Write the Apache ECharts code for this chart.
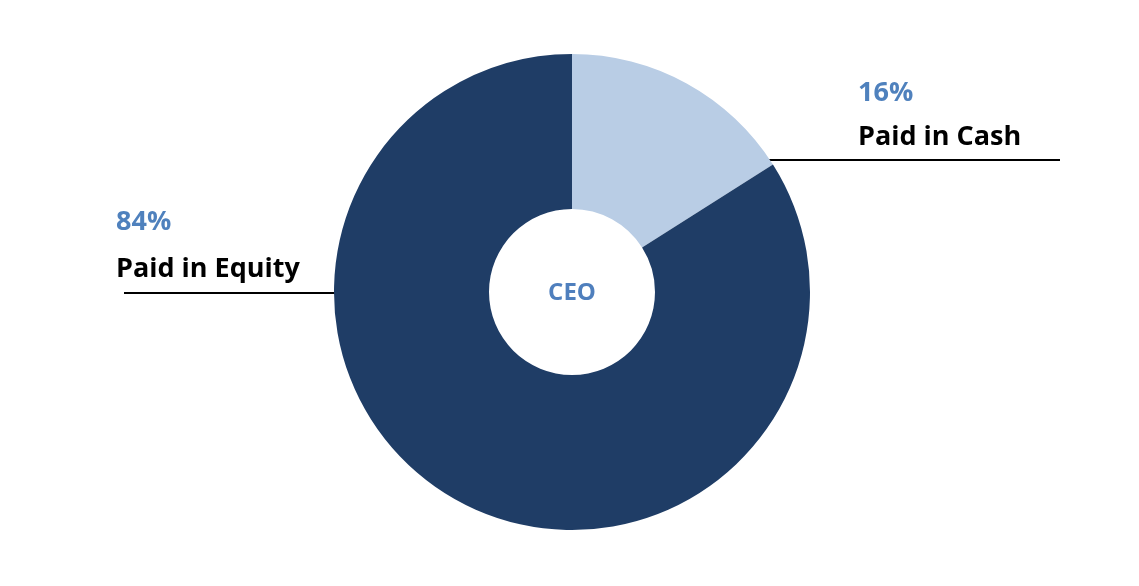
<!DOCTYPE html>
<html>
<head>
<meta charset="utf-8">
<script src="https://cdn.jsdelivr.net/npm/echarts@6/dist/echarts.min.js"></script>
<style>html,body{margin:0;padding:0;background:#fff}#chart{width:1139px;height:586px}</style>
</head>
<body>
<div id="chart"></div>
<script>
const names = ["Paid in Cash", "Paid in Equity"];
const values = [16, 84];
const colors = ["#b9cde5", "#1f3d66"];
const centerLabel = "CEO";

const chart = echarts.init(document.getElementById("chart"));
const font = "'Open Sans', 'Liberation Sans', sans-serif";

// label blocks: [percent x, y] / name / leader line
const txt = (x, y, text, color) => ({
  type: "text", x, y,
  style: { text, fill: color, font: "bold 27px " + font, textVerticalAlign: "middle" }
});
const line = (x1, x2, y) => ({
  type: "line", shape: { x1, y1: y, x2, y2: y },
  style: { stroke: "#000", lineWidth: 2 }
});
const dot = (x, y) => ({ type: "circle", shape: { cx: x, cy: y, r: 5 }, style: { fill: "#000" } });

chart.setOption({
  animation: false,
  series: [{
    type: "pie",
    center: [572, 292],
    radius: [83, 238],
    startAngle: 90,
    label: { show: false },
    labelLine: { show: false },
    data: names.map((n, i) => ({ name: n, value: values[i], itemStyle: { color: colors[i] } }))
  }],
  graphic: [
    { type: "text", x: 572, y: 293, style: { text: centerLabel, fill: "#4f7fbd", font: "bold 24px " + font, textAlign: "center", textVerticalAlign: "middle" } },
    txt(858, 93, values[0] + "%", "#4f81bd"),
    txt(858, 137, names[0], "#000"),
    line(643, 1060, 160), dot(643, 160),
    txt(116, 222, values[1] + "%", "#4f81bd"),
    txt(116, 269, names[1], "#000"),
    line(124, 426, 293), dot(426, 293)
  ]
});
</script>
</body>
</html>
